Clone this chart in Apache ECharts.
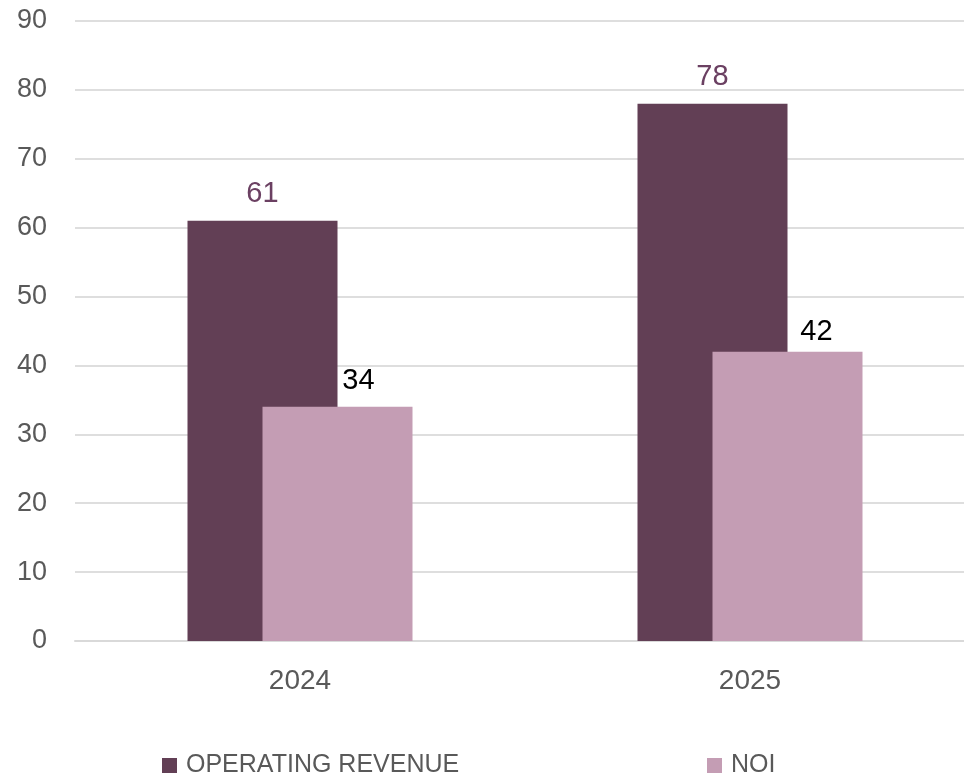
<!DOCTYPE html>
<html>
<head>
<meta charset="utf-8">
<script src="https://cdn.jsdelivr.net/npm/echarts@6/dist/echarts.min.js"></script>
<style>html,body{margin:0;padding:0;background:#fff}#c{width:964px;height:777px}</style>
</head>
<body>
<div id="c"></div>
<script>
const categories = ['2024', '2025'];
const operatingRevenue = [61, 78];
const noi = [34, 42];
const seriesNames = ['OPERATING REVENUE', 'NOI'];

const darkColor = '#623f55';
const lightColor = '#c49db4';
const noiLabelOffsets = [[21, -5], [29, 1]];
const font = 'Liberation Sans, Arial, sans-serif';

const chart = echarts.init(document.getElementById('c'));
chart.setOption({
  animation: false,
  backgroundColor: '#ffffff',
  grid: { left: 75, top: 21, width: 900, height: 620, containLabel: false, outerBoundsMode: 'none' },
  legend: [
    { data: [seriesNames[0]], left: 157, top: 748, itemWidth: 15, itemHeight: 15, itemGap: 0,
      icon: 'rect', textStyle: { fontFamily: font, fontSize: 25, color: '#595959', padding: [0, 0, 0, 4] } },
    { data: [seriesNames[1]], left: 702, top: 748, itemWidth: 15, itemHeight: 15, itemGap: 0,
      icon: 'rect', textStyle: { fontFamily: font, fontSize: 25, color: '#595959', padding: [0, 0, 0, 4] } }
  ],
  xAxis: {
    type: 'category', data: categories,
    axisLine: { lineStyle: { color: '#d9d9d9', width: 2 } },
    axisTick: { show: false },
    axisLabel: { fontFamily: font, fontSize: 28, color: '#595959', margin: 26 }
  },
  yAxis: {
    type: 'value', min: 0, max: 90, interval: 10,
    axisLine: { show: false }, axisTick: { show: false },
    splitLine: { lineStyle: { color: '#dedede', width: 2 } },
    axisLabel: { fontFamily: font, fontSize: 27, color: '#595959', margin: 28 }
  },
  series: [
    {
      name: seriesNames[0], type: 'bar', data: operatingRevenue,
      barWidth: 150, barGap: '-50%',
      itemStyle: { color: darkColor },
      label: { show: true, position: 'top', distance: 12, fontFamily: font, fontSize: 29, color: '#6b4062' }
    },
    {
      name: seriesNames[1], type: 'bar',
      data: noi.map((v, i) => ({ value: v, label: { offset: noiLabelOffsets[i] } })),
      barWidth: 150, barGap: '-50%',
      itemStyle: { color: lightColor },
      label: { show: true, position: 'top', distance: 6, fontFamily: font, fontSize: 29, color: '#000000' }
    }
  ]
});
</script>
</body>
</html>
